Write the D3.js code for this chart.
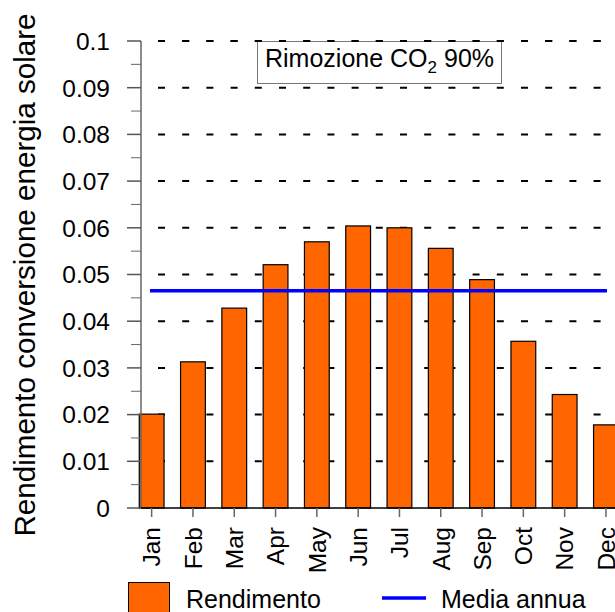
<!DOCTYPE html>
<html><head><meta charset="utf-8">
<script src="https://cdn.jsdelivr.net/npm/d3@7"></script>
<style>
html,body{margin:0;padding:0;background:#fff;}
svg{display:block;font-family:"Liberation Sans",Arial,sans-serif;}
</style></head>
<body><svg id="c" width="615" height="612"></svg>
<script>
const months = ["Jan","Feb","Mar","Apr","May","Jun","Jul","Aug","Sep","Oct","Nov","Dec"];
const rendimento = [0.0201,0.0313,0.0428,0.0521,0.0570,0.0604,0.0600,0.0556,0.0489,0.0357,0.0243,0.0178];
const mediaAnnua = 0.0465;
const yTicks = [0,0.01,0.02,0.03,0.04,0.05,0.06,0.07,0.08,0.09,0.1];
const yTickLabels = ["0","0.01","0.02","0.03","0.04","0.05","0.06","0.07","0.08","0.09","0.1"];
const yMinorTicks = [0.005,0.015,0.025,0.035,0.045,0.055,0.065,0.075,0.085,0.095];
const yTitle = "Rendimento conversione energia solare";
const legendLabels = ["Rendimento","Media annua"];

const svg = d3.select("#c");
const x = d3.scaleBand().domain(months).range([131, 626.6]).paddingInner(0.4).paddingOuter(0.2);
const y = d3.scaleLinear().domain([0,0.1]).range([508,41]);
const axisX = 141;

// gridlines
svg.append("g").selectAll("line").data(yTicks.slice(1)).join("line")
  .attr("x1",158).attr("x2",615).attr("y1",d=>y(d)).attr("y2",d=>y(d))
  .attr("stroke","#000").attr("stroke-width",2).attr("stroke-dasharray","7 17.2");

// annotation box
const box = svg.append("g");
box.append("rect").attr("x",257.5).attr("y",y(0.1)+0.5).attr("width",244).attr("height",42)
  .attr("fill","#fff").attr("stroke","#777").attr("stroke-width",1);
const t = box.append("text").attr("x",265).attr("y",67).attr("font-size",25).attr("fill","#000");
t.append("tspan").text("Rimozione CO");
t.append("tspan").attr("font-size",17).attr("dy",6).text("2");
t.append("tspan").attr("dy",-6).text(" 90%");
svg.append("line").attr("x1",158).attr("x2",615).attr("y1",y(0.1)).attr("y2",y(0.1))
  .attr("stroke","#000").attr("stroke-width",2).attr("stroke-dasharray","7 17.2");

// bars
svg.append("g").selectAll("rect").data(rendimento).join("rect")
  .attr("x",(d,i)=>x(months[i])).attr("width",x.bandwidth())
  .attr("y",d=>y(d)).attr("height",d=>y(0)-y(d))
  .attr("fill","#FF6600").attr("stroke","#000").attr("stroke-width",1.2);

// mean line
svg.append("line").attr("x1",150).attr("x2",607).attr("y1",y(mediaAnnua)).attr("y2",y(mediaAnnua))
  .attr("stroke","#0000FF").attr("stroke-width",3.5);

// y axis
const ya = svg.append("g");
ya.append("line").attr("x1",axisX).attr("x2",axisX).attr("y1",y(0.1)).attr("y2",y(0)).attr("stroke","#666").attr("stroke-width",1.5);
ya.selectAll("line.maj").data(yTicks).join("line").attr("class","maj")
  .attr("x1",127).attr("x2",axisX).attr("y1",d=>y(d)).attr("y2",d=>y(d)).attr("stroke","#555").attr("stroke-width",1.5);
ya.selectAll("line.min").data(yMinorTicks).join("line").attr("class","min")
  .attr("x1",131).attr("x2",axisX).attr("y1",d=>y(d)).attr("y2",d=>y(d)).attr("stroke","#666").attr("stroke-width",1);
ya.selectAll("text").data(yTicks).join("text")
  .attr("x",110).attr("y",d=>y(d)).attr("dy","0.36em").attr("text-anchor","end")
  .attr("font-size",24.5).text((d,i)=>yTickLabels[i]);

// x axis
const xa = svg.append("g");
xa.append("line").attr("x1",axisX).attr("x2",615).attr("y1",508).attr("y2",508).attr("stroke","#000").attr("stroke-width",1.5);
xa.selectAll("line.t").data(months).join("line").attr("class","t")
  .attr("x1",d=>x(d)+x.bandwidth()/2).attr("x2",d=>x(d)+x.bandwidth()/2)
  .attr("y1",508).attr("y2",517).attr("stroke","#666").attr("stroke-width",1.5);
xa.selectAll("text").data(months).join("text")
  .attr("transform",d=>`translate(${x(d)+x.bandwidth()/2},527) rotate(-90)`)
  .attr("text-anchor","end").attr("dy","0.36em").attr("font-size",24.5).text(d=>d);

// y title
svg.append("text").attr("transform","translate(35,275) rotate(-90)")
  .attr("text-anchor","middle").attr("font-size",29.6).text(yTitle);

// legend
svg.append("rect").attr("x",128.5).attr("y",582.5).attr("width",41).attr("height",40)
  .attr("fill","#FF6600").attr("stroke","#000").attr("stroke-width",1);
svg.append("text").attr("x",186).attr("y",608).attr("font-size",25).text(legendLabels[0]);
svg.append("line").attr("x1",382).attr("x2",426).attr("y1",598).attr("y2",598).attr("stroke","#0000FF").attr("stroke-width",3.5);
svg.append("text").attr("x",441).attr("y",608).attr("font-size",25).text(legendLabels[1]);
</script></body></html>
